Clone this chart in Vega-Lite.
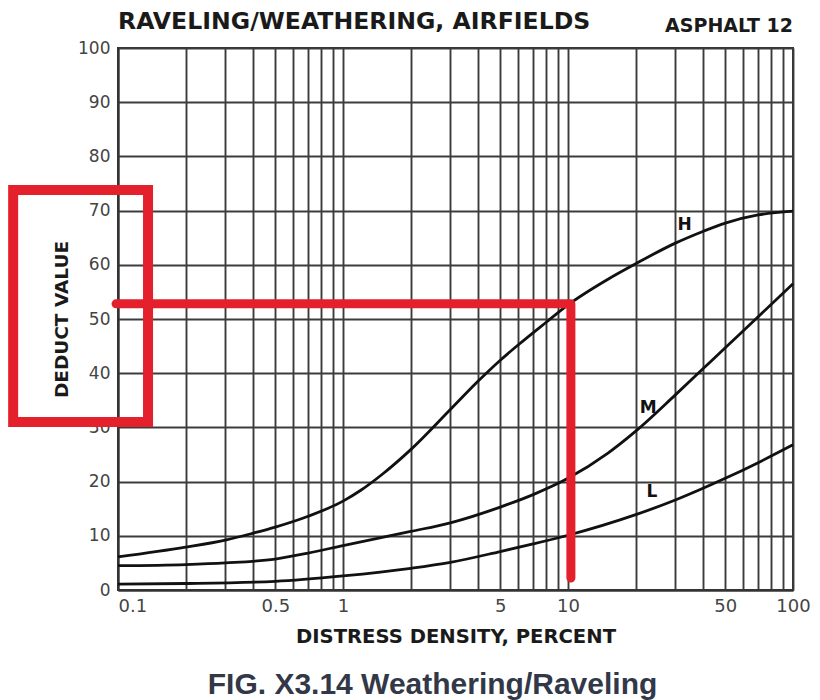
{
  "$schema": "https://vega.github.io/schema/vega-lite/v6.json",
  "width": 675,
  "height": 542,
  "autosize": {"type": "none"},
  "padding": {"left": 118, "top": 48, "right": 27, "bottom": 110},
  "background": "white",
  "title": {
    "text": "FIG. X3.14 Weathering/Raveling",
    "orient": "bottom",
    "anchor": "middle",
    "offset": 24,
    "dx": -23,
    "font": "Liberation Sans",
    "fontSize": 30,
    "fontWeight": "bold",
    "color": "#323848"
  },
  "config": {
    "view": {"stroke": "#333333", "strokeWidth": 2},
    "axis": {
      "gridColor": "#3c3c3c",
      "gridWidth": 1.9,
      "gridOpacity": 1,
      "domainColor": "#333333",
      "domainWidth": 2,
      "ticks": false,
      "tickSize": 0,
      "labelFont": "DejaVu Sans",
      "labelColor": "#444444",
      "titleFont": "DejaVu Sans",
      "titleFontWeight": "bold",
      "titleColor": "#1a1a1a",
      "labelOverlap": false
    }
  },
  "datasets": {
    "curves": [
      {"series": "H", "x": 0.1, "y": 6.1},
      {"series": "H", "x": 0.2, "y": 7.9},
      {"series": "H", "x": 0.3, "y": 9.2},
      {"series": "H", "x": 0.4, "y": 10.5},
      {"series": "H", "x": 0.5, "y": 11.6},
      {"series": "H", "x": 0.7, "y": 13.6},
      {"series": "H", "x": 1, "y": 16.4},
      {"series": "H", "x": 1.2, "y": 18.4},
      {"series": "H", "x": 1.5, "y": 21.4},
      {"series": "H", "x": 2, "y": 25.9},
      {"series": "H", "x": 3, "y": 33.3},
      {"series": "H", "x": 4, "y": 38.6},
      {"series": "H", "x": 5, "y": 42.4},
      {"series": "H", "x": 6, "y": 45.2},
      {"series": "H", "x": 8, "y": 49.4},
      {"series": "H", "x": 10, "y": 52.6},
      {"series": "H", "x": 15, "y": 57.3},
      {"series": "H", "x": 20, "y": 60.2},
      {"series": "H", "x": 30, "y": 64},
      {"series": "H", "x": 40, "y": 66.2},
      {"series": "H", "x": 50, "y": 67.7},
      {"series": "H", "x": 70, "y": 69.2},
      {"series": "H", "x": 100, "y": 69.9},
      {"series": "M", "x": 0.1, "y": 4.5},
      {"series": "M", "x": 0.2, "y": 4.7},
      {"series": "M", "x": 0.3, "y": 5.0},
      {"series": "M", "x": 0.5, "y": 5.7},
      {"series": "M", "x": 0.7, "y": 6.8},
      {"series": "M", "x": 1, "y": 8.2},
      {"series": "M", "x": 2, "y": 10.8},
      {"series": "M", "x": 3, "y": 12.4},
      {"series": "M", "x": 5, "y": 15.3},
      {"series": "M", "x": 7, "y": 17.6},
      {"series": "M", "x": 10, "y": 20.6},
      {"series": "M", "x": 15, "y": 25.2},
      {"series": "M", "x": 20, "y": 29.3},
      {"series": "M", "x": 30, "y": 36},
      {"series": "M", "x": 40, "y": 40.9},
      {"series": "M", "x": 50, "y": 44.7},
      {"series": "M", "x": 70, "y": 50.4},
      {"series": "M", "x": 100, "y": 56.5},
      {"series": "L", "x": 0.1, "y": 1.1},
      {"series": "L", "x": 0.2, "y": 1.2},
      {"series": "L", "x": 0.5, "y": 1.6},
      {"series": "L", "x": 1, "y": 2.6},
      {"series": "L", "x": 2, "y": 4.0},
      {"series": "L", "x": 3, "y": 5.1},
      {"series": "L", "x": 5, "y": 7.1},
      {"series": "L", "x": 7, "y": 8.5},
      {"series": "L", "x": 10, "y": 10.1},
      {"series": "L", "x": 20, "y": 13.9},
      {"series": "L", "x": 30, "y": 16.6},
      {"series": "L", "x": 50, "y": 20.6},
      {"series": "L", "x": 70, "y": 23.5},
      {"series": "L", "x": 100, "y": 26.8}
    ],
    "labels": [
      {"label": "H", "x": 33, "y": 67.3},
      {"label": "M", "x": 22.7, "y": 33.6},
      {"label": "L", "x": 23.6, "y": 18.1}
    ],
    "readout": [
      {"step": 1, "x": 0.098, "y": 52.8},
      {"step": 2, "x": 10.3, "y": 52.8},
      {"step": 3, "x": 10.3, "y": 2.2}
    ]
  },
  "layer": [
    {
      "data": {"name": "curves"},
      "mark": {"type": "line", "color": "#111111", "strokeWidth": 2.8, "interpolate": "monotone"},
      "encoding": {
        "x": {
          "field": "x",
          "type": "quantitative",
          "scale": {"type": "log", "domain": [0.1, 100], "nice": false},
          "axis": {
            "values": [0.1, 0.2, 0.3, 0.4, 0.5, 0.6, 0.7, 0.8, 0.9, 1, 2, 3, 4, 5, 6, 7, 8, 9, 10, 20, 30, 40, 50, 60, 70, 80, 90, 100],
            "format": "~g",
            "labelExpr": "(datum.value == 0.1 || datum.value == 0.5 || datum.value == 1 || datum.value == 5 || datum.value == 10 || datum.value == 50 || datum.value == 100) ? datum.label : ''",
            "labelFontSize": 18,
            "labelPadding": 7,
            "labelFlush": false,
            "labelAlign": {"condition": {"test": "datum.value <= 0.1", "value": "left"}, "value": "center"},
            "title": "DISTRESS DENSITY, PERCENT",
            "titleFontSize": 19.6,
            "titleBaseline": "alphabetic",
            "titleY": 52
          }
        },
        "y": {
          "field": "y",
          "type": "quantitative",
          "scale": {"domain": [0, 100], "nice": false},
          "axis": {
            "values": [0, 5, 10, 15, 20, 25, 30, 35, 40, 45, 50, 55, 60, 65, 70, 75, 80, 85, 90, 95, 100],
            "labelExpr": "datum.value % 10 === 0 ? datum.label : ''",
            "labelFontSize": 17,
            "labelPadding": 8,
            "title": "DEDUCT VALUE",
            "titleFontSize": 18.5,
            "titleBaseline": "alphabetic",
            "titleX": -50.5
          }
        },
        "detail": {"field": "series"}
      }
    },
    {
      "data": {"name": "labels"},
      "mark": {"type": "text", "font": "DejaVu Sans", "fontWeight": "bold", "fontSize": 17, "color": "#111111", "align": "center", "baseline": "middle"},
      "encoding": {
        "x": {"field": "x", "type": "quantitative"},
        "y": {"field": "y", "type": "quantitative"},
        "text": {"field": "label"}
      }
    },
    {
      "data": {"values": [{}]},
      "mark": {"type": "text", "text": "RAVELING/WEATHERING, AIRFIELDS", "align": "left", "baseline": "alphabetic", "dy": -19, "font": "DejaVu Sans", "fontSize": 23.6, "fontWeight": "bold", "color": "#1a1a1a", "clip": false},
      "encoding": {"x": {"datum": 0.1}, "y": {"datum": 100}}
    },
    {
      "data": {"values": [{}]},
      "mark": {"type": "text", "text": "ASPHALT 12", "align": "right", "baseline": "alphabetic", "dy": -16, "font": "DejaVu Sans", "fontSize": 19, "fontWeight": "bold", "color": "#1a1a1a", "clip": false},
      "encoding": {"x": {"datum": 100}, "y": {"datum": 100}}
    },
    {
      "data": {"name": "readout"},
      "mark": {"type": "line", "color": "#e3202b", "strokeWidth": 9, "strokeCap": "round", "strokeJoin": "round"},
      "encoding": {
        "x": {"field": "x", "type": "quantitative"},
        "y": {"field": "y", "type": "quantitative"},
        "order": {"field": "step"}
      }
    },
    {
      "data": {"values": [{}]},
      "mark": {"type": "rect", "fill": null, "fillOpacity": 0, "stroke": "#e3202b", "strokeWidth": 10, "clip": false},
      "encoding": {
        "x": {"datum": 0.0342},
        "x2": {"datum": 0.136},
        "y": {"datum": 73.8},
        "y2": {"datum": 31}
      }
    }
  ]
}
